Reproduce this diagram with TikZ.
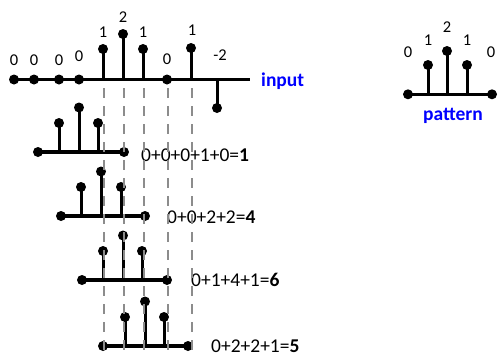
\documentclass[tikz,border=0pt]{standalone}
\usepackage{fontspec}
\setmainfont{Carlito}
\tikzset{
  axisline/.style={line width=3.5pt},
  stemline/.style={line width=3pt},
  dot/.style={circle,fill=black,inner sep=0pt,minimum size=10pt},
  guide/.style={draw=black!45,line width=2pt,dash pattern=on 10pt off 8pt},
  lab/.style={inner sep=0pt,font=\fontsize{16.5}{19}\selectfont},
  eq/.style={inner sep=0pt,anchor=west,font=\fontsize{19.5}{23}\selectfont},
  tag/.style={inner sep=0pt,anchor=base,text=blue,font=\fontsize{19.5}{23}\selectfont\bfseries}
}
\begin{document}
\begin{tikzpicture}[x=1pt,y=-1pt]
\useasboundingbox (0,0) rectangle (498,357);
% ---------- input signal ----------
\coordinate (inL) at (14,79.5);
\coordinate (inR) at (250,79.5);
\draw[axisline] (inL) -- (inR);
\foreach \x [count=\i] in {14,34,59,79,167}
  \node[dot] (z\i) at (\x,79.5) {};
\foreach \x/\y [count=\i] in {103/49,123/34,143/49,191/48,217/108}{
  \coordinate (sb\i) at (\x,79.5);
  \draw[stemline] (sb\i) -- (\x,\y);
  \node[dot] (s\i) at (\x,\y) {};
}
\foreach \x/\y/\t [count=\i] in {14/60/0,34/60/0,59/60/0,79/56.5/0,103/32/1,123/17/2,143/32/1,167/59/0,192/30/1,220/55/-2}
  \node[lab] (l\i) at (\x,\y) {\t};
\node[tag,anchor=base west] (input) at (261,86) {input};
% ---------- pattern (right) ----------
\coordinate (pL) at (408,94.3);
\coordinate (pR) at (492,94.3);
\draw[axisline] (pL) -- (pR);
\node[dot] (pd1) at (pL) {};
\node[dot] (pd2) at (pR) {};
\foreach \x/\y [count=\i] in {428/65,447/51,467/65}{
  \coordinate (pb\i) at (\x,94.3);
  \draw[stemline] (pb\i) -- (\x,\y);
  \node[dot] (ps\i) at (\x,\y) {};
}
\foreach \x/\y/\t [count=\i] in {408/52/0,428/40/1,447/27/2,467/40/1,491/52/0}
  \node[lab] (pl\i) at (\x,\y) {\t};
\node[tag] (pattern) at (453,120) {pattern};
% ---------- shifted patterns ----------
\foreach \L/\B/\a/\b/\c/\R/\r in {38/152/59/79/98/124/1,61/216/81/101/121/145/2,82/280/103/123/142/167/3,103/346/125/145/164/188/4}{
  \coordinate (rL\r) at (\L,\B);
  \coordinate (rR\r) at (\R,\B);
  \draw[axisline] (rL\r) -- (rR\r);
  \node[dot] (rdl\r) at (rL\r) {};
  \node[dot] (rdr\r) at (rR\r) {};
  \pgfmathsetmacro{\ts}{\B-29}
  \pgfmathsetmacro{\tc}{\B-44.5}
  \draw[stemline] (\a,\B) -- (\a,\ts);
  \draw[stemline] (\b,\B) -- (\b,\tc);
  \draw[stemline] (\c,\B) -- (\c,\ts);
  \node[dot] (ra\r) at (\a,\ts) {};
  \node[dot] (rb\r) at (\b,\tc) {};
  \node[dot] (rc\r) at (\c,\ts) {};
}
\node[eq] (e1) at (141,155) {0+0+0+1+0=\textbf{1}};
\node[eq] (e2) at (167,217.5) {0+0+2+2=\textbf{4}};
\node[eq] (e3) at (191,280) {0+1+4+1=\textbf{6}};
\node[eq] (e4) at (211,346.5) {0+2+2+1=\textbf{5}};
% ---------- guide lines ----------
\foreach \x [count=\i] in {103.5,124,143.5,167.5,191.5}{
  \coordinate (gt\i) at (\x,88);
  \coordinate (gb\i) at (\x,357);
  \draw[guide] (gt\i) -- (gb\i);
}
\end{tikzpicture}
\end{document}
